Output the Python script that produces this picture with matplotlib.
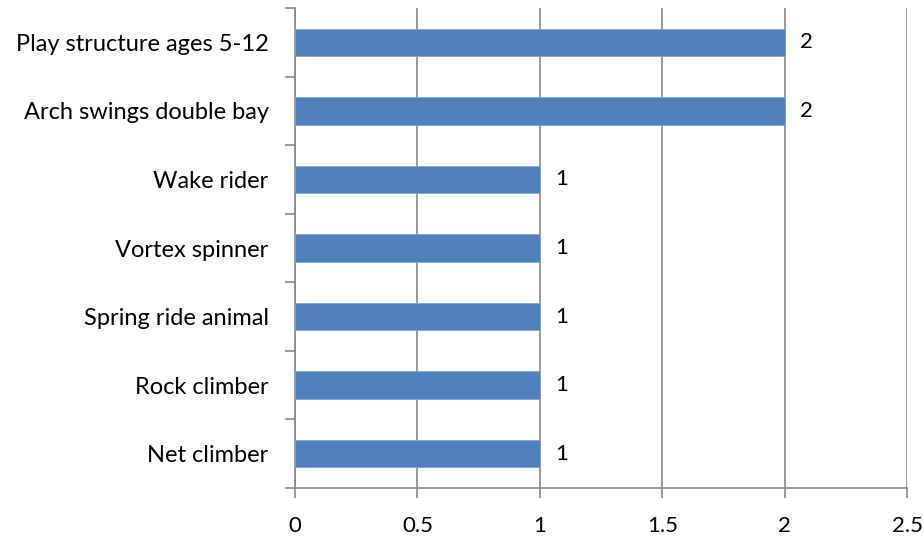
import matplotlib
matplotlib.use('Agg')
import matplotlib.pyplot as plt
import numpy as np

categories = ['Net climber', 'Rock climber', 'Spring ride animal', 'Vortex spinner',
              'Wake rider', 'Arch swings double bay', 'Play structure ages 5-12']
values = [1, 1, 1, 1, 1, 2, 2]
xticks = [0, 0.5, 1, 1.5, 2, 2.5]
xticklabels = ['0', '0.5', '1', '1.5', '2', '2.5']

plt.rcParams['font.family'] = ['Lato', 'DejaVu Sans']
axis_gray = '#868686'

fig = plt.figure(figsize=(9.23, 5.38), dpi=100)
ax = fig.add_axes([0.3196, 0.093, 0.6631, 0.892])

y = np.arange(len(categories))
ax.barh(y, values, height=0.4, color='#4F81BD', edgecolor='#7FA3D1', linewidth=0.6, zorder=3)

for yi, v in zip(y, values):
    ax.annotate(str(v), (v, yi), xytext=(11, 0), textcoords='offset points',
                va='center', ha='left', fontsize=16, color='black')

ax.set_xlim(0, 2.5)
ax.set_ylim(-0.5, len(categories) - 0.5)
ax.set_xticks(xticks)
ax.set_xticklabels(xticklabels, fontsize=16)
ax.set_yticks(y)
ax.set_yticklabels(categories, fontsize=17)
ax.set_yticks(np.arange(-0.5, len(categories)), minor=True)

ax.tick_params(axis='y', which='major', length=0, pad=19)
ax.tick_params(axis='y', which='minor', length=7, color=axis_gray, width=1.2)
ax.tick_params(axis='x', length=7, color=axis_gray, width=1.2, pad=13)

ax.grid(axis='x', color=axis_gray, linewidth=1.2, zorder=0)
for s in ['top', 'right']:
    ax.spines[s].set_visible(False)
for s in ['left', 'bottom']:
    ax.spines[s].set_color(axis_gray)
    ax.spines[s].set_linewidth(1.2)

fig.savefig('out.png', dpi=100)
